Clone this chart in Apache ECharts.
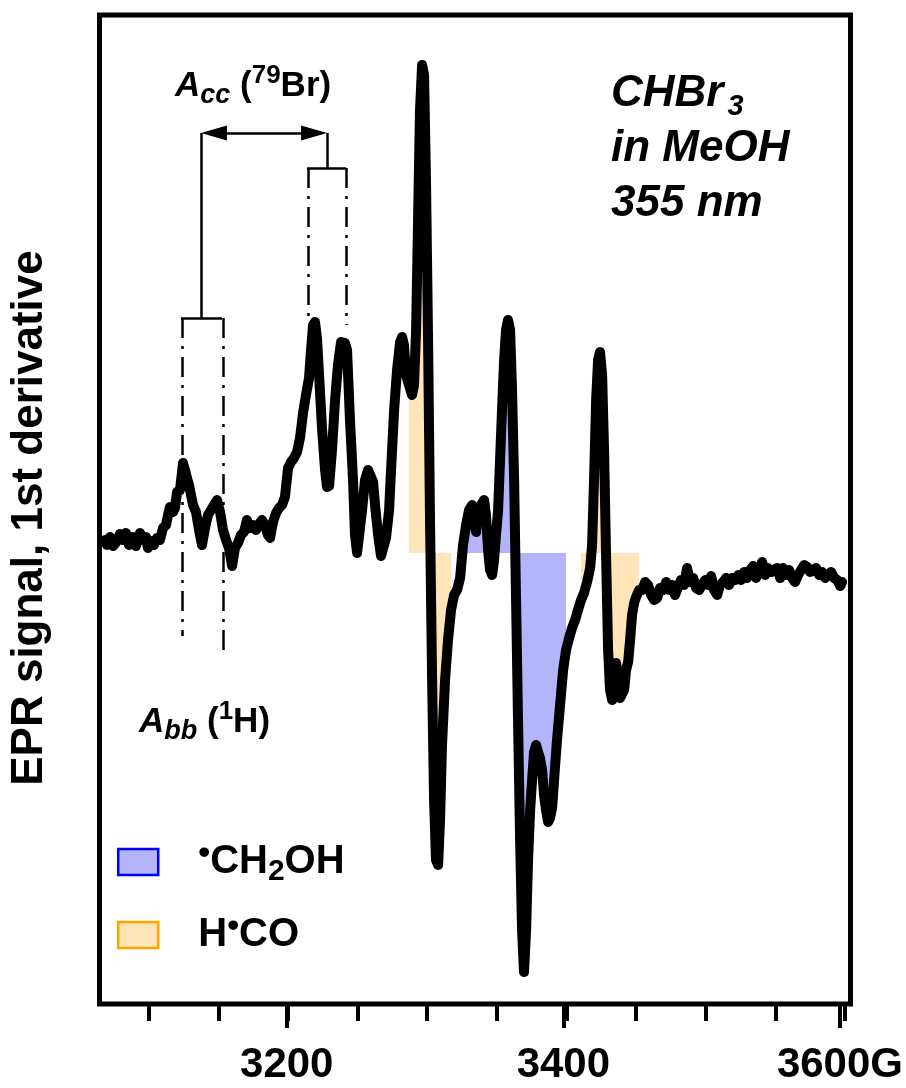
<!DOCTYPE html>
<html>
<head>
<meta charset="utf-8">
<script src="https://cdn.jsdelivr.net/npm/echarts@6/dist/echarts.min.js"></script>
<style>
  html, body { margin: 0; padding: 0; background: #fff; }
  #chart { width: 906px; height: 1088px; }
</style>
</head>
<body>
<div id="chart"></div>
<script>
// Magnetic field of each sample (G)
const field = [
  3068.5, 3070.0, 3072.1, 3074.3, 3077.2, 3079.3, 3081.5, 3083.6, 3085.8, 3088.6, 3090.8, 3093.7,
  3095.8, 3098.0, 3099.4, 3101.6, 3103.7, 3105.9, 3108.0, 3110.2, 3112.4, 3113.8, 3115.2, 3117.4,
  3118.8, 3120.3, 3122.4, 3124.6, 3126.0, 3127.4, 3128.9, 3130.3, 3131.8, 3133.9, 3136.1, 3138.2,
  3140.4, 3142.5, 3144.7, 3146.8, 3149.0, 3151.2, 3153.3, 3155.5, 3157.6, 3159.8, 3161.9, 3164.1,
  3166.2, 3168.4, 3170.5, 3172.7, 3174.9, 3177.0, 3179.2, 3181.3, 3183.5, 3185.6, 3187.1, 3189.2,
  3191.4, 3193.5, 3195.7, 3197.8, 3200.0, 3202.2, 3204.3, 3206.5, 3208.6, 3210.8, 3212.9, 3215.1,
  3216.5, 3218.0, 3219.4, 3220.8, 3222.3, 3224.4, 3226.6, 3228.0, 3229.5, 3231.6, 3233.8, 3235.9,
  3238.1, 3239.5, 3241.0, 3242.4, 3244.5, 3246.7, 3248.1, 3249.6, 3251.0, 3253.2, 3255.3, 3257.5,
  3258.9, 3261.1, 3262.5, 3264.7, 3266.8, 3268.2, 3270.4, 3272.6, 3274.0, 3276.2, 3278.3, 3280.5,
  3281.9, 3283.3, 3284.8, 3286.9, 3289.1, 3290.5, 3292.0, 3293.4, 3294.8, 3296.3, 3297.7, 3299.1,
  3300.6, 3302.0, 3303.5, 3304.9, 3306.3, 3307.8, 3309.2, 3310.6, 3312.8, 3314.9, 3317.1, 3319.3,
  3321.4, 3323.6, 3325.7, 3327.9, 3330.0, 3332.2, 3333.6, 3335.1, 3336.5, 3338.7, 3340.8, 3342.2,
  3343.7, 3345.1, 3346.6, 3348.0, 3349.4, 3350.9, 3352.3, 3353.7, 3355.2, 3356.6, 3358.0, 3359.5,
  3360.9, 3362.4, 3363.8, 3365.2, 3366.7, 3368.1, 3369.5, 3371.0, 3372.4, 3373.9, 3375.3, 3376.7,
  3378.2, 3379.6, 3381.0, 3382.5, 3383.9, 3385.3, 3386.8, 3388.2, 3389.7, 3391.1, 3393.2, 3395.4,
  3397.6, 3399.7, 3401.9, 3404.0, 3406.2, 3408.3, 3410.5, 3412.6, 3414.8, 3417.0, 3418.4, 3419.8,
  3421.3, 3422.7, 3424.1, 3425.6, 3427.0, 3428.5, 3429.9, 3431.3, 3432.8, 3434.2, 3435.6, 3437.1,
  3438.5, 3439.9, 3441.4, 3442.8, 3444.3, 3445.7, 3447.1, 3448.6, 3450.0, 3452.2, 3454.3, 3456.5,
  3458.6, 3460.8, 3462.9, 3465.1, 3467.2, 3469.4, 3471.6, 3473.7, 3475.9, 3478.0, 3480.2, 3482.3,
  3484.5, 3486.6, 3488.8, 3491.0, 3493.1, 3495.3, 3497.4, 3499.6, 3501.7, 3503.9, 3506.0, 3508.2,
  3510.3, 3512.5, 3514.7, 3516.8, 3519.0, 3521.1, 3523.3, 3525.4, 3527.6, 3529.7, 3531.9, 3534.1,
  3536.2, 3538.4, 3540.5, 3542.7, 3544.8, 3547.0, 3549.1, 3551.3, 3553.5, 3555.6, 3557.8, 3559.9,
  3562.1, 3564.2, 3566.4, 3568.5, 3570.7, 3572.9, 3575.0, 3577.2, 3579.3, 3581.5, 3583.6, 3585.8,
  3587.9, 3590.1, 3592.2, 3594.4, 3596.6, 3598.0
];

// First-derivative EPR signal (arbitrary units, baseline = 0)
const signal = [
  13, 8, 16, 7, 12, 19, 13, 20, 8, 16, 7, 20,
  13, 16, 5, 12, 8, 15, 13, 25, 28, 38, 46, 41,
  45, 61, 63, 90, 83, 75, 68, 58, 48, 41, 23, 8,
  25, 38, 43, 48, 53, 41, 23, 13, 5, -13, 5, 10,
  18, 21, 33, 25, 28, 23, 29, 33, 28, 18, 15, 31,
  40, 45, 48, 56, 85, 91, 95, 101, 115, 140, 158, 175,
  203, 228, 231, 215, 178, 125, 83, 66, 67, 103, 153, 188,
  211, 213, 210, 203, 133, 73, 18, 0, 1, 43, 73, 83,
  81, 71, 48, 18, -3, -3, 15, 43, 83, 143, 183, 211,
  216, 208, 178, 168, 158, 168, 223, 333, 443, 488, 478, 373,
  213, 33, -127, -247, -307, -312, -267, -192, -127, -87, -57, -42,
  -37, -25, 8, 28, 43, 48, 33, 21, 45, 48, 53, 38,
  3, -17, -22, -7, 18, 43, 93, 143, 193, 223, 233, 223,
  163, 73, -47, -167, -287, -377, -419, -377, -307, -257, -227, -199,
  -192, -199, -205, -217, -242, -257, -269, -265, -255, -227, -187, -152,
  -117, -97, -85, -75, -67, -57, -47, -40, -29, -15, 8, 73,
  153, 193, 201, 178, 103, -7, -97, -137, -147, -127, -110, -122,
  -145, -147, -137, -117, -109, -87, -62, -50, -44, -37, -37, -29,
  -32, -42, -47, -45, -35, -37, -29, -37, -32, -42, -34, -27,
  -32, -15, -29, -25, -35, -37, -32, -27, -32, -23, -37, -42,
  -32, -29, -25, -32, -25, -27, -22, -27, -19, -25, -17, -13,
  -25, -17, -9, -22, -15, -19, -17, -15, -25, -15, -22, -17,
  -25, -29, -22, -17, -12, -14, -19, -17, -15, -22, -19, -25,
  -22, -19, -25, -27, -33, -29
];

// Field windows (G) shaded for each radical
const ch2ohWindow = [3325, 3400];
const hcoWindows = [[3286, 3318], [3410, 3453]];

// Axis ticks (G)
const minorTicks = [3100, 3150, 3200, 3250, 3300, 3350, 3400, 3450, 3500, 3550, 3600];
const labelTicks = [3200, 3400, 3600];

// Hyperfine splitting markers (G) and their heights (signal units)
const bbLines = [3124.2, 3153.7];
const bbBar = [3123.1, 3152.6];
const bbStem = 3137.5;
const bbLevels = { bar: 235, left: -83, right: -102 };
const ccLines = [3214.4, 3241.7];
const ccBar = [3213.6, 3241.7];
const ccStem = 3228.0;
const ccLevels = { bar: 385, left: 237, right: 228 };
const arrowLevel = 420;
const arrowHalfHead = 9.3;

const FONT = '"Liberation Sans", Arial, Helvetica, sans-serif';
const BLUE_FILL = '#b4b4fb';
const ORANGE_FILL = '#fde5b9';

const curve = field.map((f, i) => [f, signal[i]]);
const windowOf = (lo, hi) => curve.filter(p => p[0] >= lo && p[0] <= hi);

const dashDot = { color: '#000', width: 2.5, type: [20, 8, 3, 8] };
const solid = { color: '#000', width: 2.5, type: 'solid' };
const seg = (x1, y1, x2, y2, style) => [
  { coord: [x1, y1], symbol: 'none', lineStyle: style },
  { coord: [x2, y2], symbol: 'none' }
];

const markers = [
  // proton doublet: dash-dot guides, bar and stem
  seg(bbLines[0], bbLevels.bar, bbLines[0], bbLevels.left, dashDot),
  seg(bbLines[1], bbLevels.bar, bbLines[1], bbLevels.right, dashDot),
  seg(bbBar[0], bbLevels.bar, bbBar[1], bbLevels.bar, solid),
  seg(bbStem, bbLevels.bar, bbStem, arrowLevel, solid),
  // bromine splitting: dash-dot guides, bar and stem
  seg(ccLines[0], ccLevels.bar, ccLines[0], ccLevels.left, dashDot),
  seg(ccLines[1], ccLevels.bar, ccLines[1], ccLevels.right, dashDot),
  seg(ccBar[0], ccLevels.bar, ccBar[1], ccLevels.bar, solid),
  seg(ccStem, ccLevels.bar, ccStem, arrowLevel, solid),
  // double-headed arrow between the two stems
  [
    { coord: [bbStem + arrowHalfHead, arrowLevel], symbol: 'triangle', symbolSize: [15, 26], lineStyle: solid },
    { coord: [ccStem - arrowHalfHead, arrowLevel], symbol: 'triangle', symbolSize: [15, 26] }
  ]
];

const areaSeries = (name, data, fill, extra) => Object.assign({
  name, type: 'line', data,
  xAxisIndex: 0, yAxisIndex: 0,
  showSymbol: false, symbol: 'none', silent: true,
  lineStyle: { width: 0, opacity: 0 },
  itemStyle: { color: fill },
  areaStyle: { color: fill, opacity: 1, origin: 0 },
  z: 1
}, extra || {});

const rich = {
  t: { fontSize: 40, fontWeight: 'bold', fontFamily: FONT, color: '#000', lineHeight: 50 },
  sub: { fontSize: 30, fontWeight: 'bold', fontFamily: FONT, color: '#000', lineHeight: 18, verticalAlign: 'bottom' },
  dot: { fontSize: 34, fontWeight: 'bold', fontFamily: FONT, color: '#000', lineHeight: 10, verticalAlign: 'top' }
};

const labelRich = {
  a: { fontSize: 35, fontWeight: 'bold', fontStyle: 'italic', fontFamily: FONT, lineHeight: 46 },
  s: { fontSize: 27, fontWeight: 'bold', fontStyle: 'italic', fontFamily: FONT, lineHeight: 20, verticalAlign: 'bottom' },
  n: { fontSize: 35, fontWeight: 'bold', fontFamily: FONT, lineHeight: 46 },
  p: { fontSize: 26, fontWeight: 'bold', fontFamily: FONT, lineHeight: 14, verticalAlign: 'top' }
};

const chart = echarts.init(document.getElementById('chart'), null, { renderer: 'canvas' });

chart.setOption({
  animation: false,
  backgroundColor: '#fff',
  grid: [
    { left: 99.5, right: 55.5, top: 15, bottom: 84, show: true, borderColor: '#000', borderWidth: 5, backgroundColor: 'transparent' },
    { left: 99.5, right: 55.5, top: 15, bottom: 84, show: false }
  ],
  xAxis: [
    {
      type: 'value', gridIndex: 0, min: 3064.6, max: 3604, position: 'bottom',
      axisLine: { show: false, onZero: false },
      axisTick: { show: true, customValues: minorTicks, length: 17, lineStyle: { color: '#000', width: 4 } },
      axisLabel: { show: false },
      splitLine: { show: false }
    },
    {
      type: 'value', gridIndex: 1, min: 3064.6, max: 3604, position: 'bottom',
      axisLine: { show: false, onZero: false },
      axisTick: { show: true, customValues: labelTicks, length: 24, lineStyle: { color: '#000', width: 4 } },
      axisLabel: {
        show: true, customValues: labelTicks, margin: 40,
        fontFamily: FONT, fontWeight: 'bold', fontSize: 42, color: '#000',
        formatter: v => (v === 3600 ? '3600G' : String(v))
      },
      splitLine: { show: false }
    }
  ],
  yAxis: [
    { type: 'value', gridIndex: 0, min: -451, max: 538, show: false },
    { type: 'value', gridIndex: 1, min: -451, max: 538, show: false }
  ],
  legend: {
    orient: 'vertical', left: 117, top: 837, padding: 0,
    itemWidth: 40, itemHeight: 26, itemGap: 23,
    selectedMode: false,
    data: [
      { name: 'CH2OH', icon: 'rect', itemStyle: { color: BLUE_FILL, borderColor: '#0000ff', borderWidth: 2.5 } },
      { name: 'HCO', icon: 'rect', itemStyle: { color: ORANGE_FILL, borderColor: '#ffa500', borderWidth: 2.5 } }
    ],
    formatter: name => (name === 'CH2OH'
      ? '{dot|•}{t|CH}{sub|2}{t|OH}'
      : '{t|H}{dot|•}{t|CO}'),
    textStyle: { rich, padding: [0, 0, 0, 35] }
  },
  series: [
    areaSeries('CH2OH', windowOf(ch2ohWindow[0], ch2ohWindow[1]), BLUE_FILL, {
      markLine: { silent: true, animation: false, symbol: 'none', label: { show: false }, lineStyle: solid, data: markers }
    }),
    areaSeries('HCO', windowOf(hcoWindows[0][0], hcoWindows[0][1]), ORANGE_FILL),
    areaSeries('HCO', windowOf(hcoWindows[1][0], hcoWindows[1][1]), ORANGE_FILL),
    {
      name: 'EPR', type: 'line', data: curve,
      xAxisIndex: 0, yAxisIndex: 0,
      showSymbol: false, symbol: 'none', silent: true,
      lineStyle: { color: '#000', width: 10, join: 'round', cap: 'round' },
      itemStyle: { color: '#000' },
      z: 3
    }
  ],
  graphic: [
    {
      type: 'text', x: 30, y: 518, rotation: Math.PI / 2,
      style: { text: 'EPR signal, 1st derivative', fontSize: 44, fontWeight: 'bold', fontFamily: FONT, fill: '#000', align: 'center', verticalAlign: 'middle' }
    },
    {
      type: 'text', x: 611, y: 66,
      style: {
        text: '{m|CHBr}{s|3}\n{m|in MeOH}\n{m|355 nm}',
        fill: '#000', align: 'left', verticalAlign: 'top',
        rich: {
          m: { fontSize: 44, fontWeight: 'bold', fontStyle: 'italic', fontFamily: FONT, lineHeight: 55 },
          s: { fontSize: 29, fontWeight: 'bold', fontStyle: 'italic', fontFamily: FONT, lineHeight: 24, verticalAlign: 'bottom', padding: [0, 0, 0, 4] }
        }
      }
    },
    {
      type: 'text', x: 175, y: 63,
      style: { text: '{a|A}{s|cc}{n| (}{p|79}{n|Br)}', fill: '#000', align: 'left', verticalAlign: 'top', rich: labelRich }
    },
    {
      type: 'text', x: 139, y: 699,
      style: { text: '{a|A}{s|bb}{n| (}{p|1}{n|H)}', fill: '#000', align: 'left', verticalAlign: 'top', rich: labelRich }
    }
  ]
});
</script>
</body>
</html>
